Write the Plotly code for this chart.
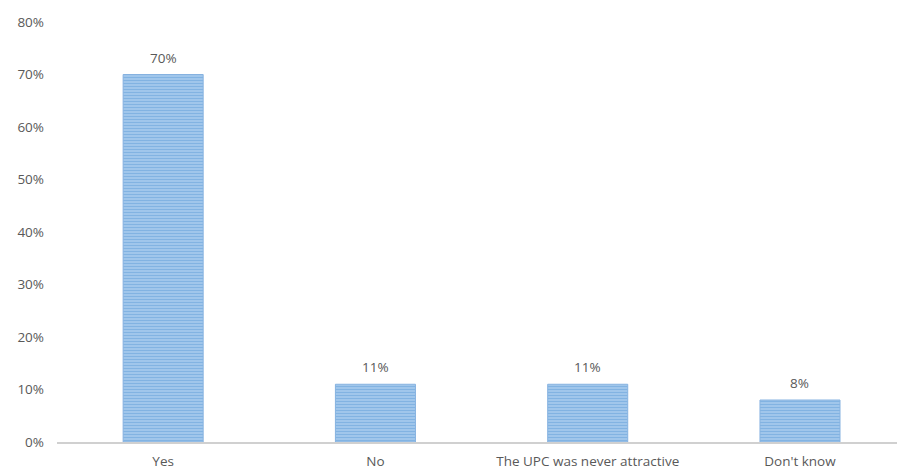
import plotly.graph_objects as go

categories = ["Yes", "No", "The UPC was never attractive", "Don't know"]
values = [0.70, 0.11, 0.11, 0.08]
labels = ["70%", "11%", "11%", "8%"]
tick_vals = [0, 0.1, 0.2, 0.3, 0.4, 0.5, 0.6, 0.7, 0.8]
tick_text = ["0%", "10%", "20%", "30%", "40%", "50%", "60%", "70%", "80%"]

font = dict(family="Open Sans, Segoe UI, sans-serif", size=13.5, color="#595959")

fig = go.Figure()
fig.add_trace(go.Bar(
    x=categories, y=values,
    marker=dict(
        color="#a9cbee",
        line=dict(color="#86b2e0", width=1),
        pattern=dict(shape="-", fgcolor="#5b9bd5", size=3, solidity=0.5, fillmode="overlay"),
    ),
    width=0.377,
    hoverinfo="skip",
))
for c, v, t in zip(categories, values, labels):
    fig.add_annotation(x=c, y=v, text=t, showarrow=False, yanchor="bottom", yshift=6, font=font)

fig.update_layout(
    width=897, height=471,
    margin=dict(l=57, r=0, t=22, b=29),
    plot_bgcolor="white", paper_bgcolor="white",
    font=font,
    showlegend=False,
    xaxis=dict(range=[-0.5, 3.457], showline=True, linecolor="#d0d0d0", linewidth=1.5,
               ticks="", showgrid=False, tickfont=font, ticklabelstandoff=6),
    yaxis=dict(range=[0, 0.8], tickvals=tick_vals, ticktext=tick_text, showgrid=False,
               zeroline=False, showline=False, ticks="", tickfont=font, ticklabelstandoff=12),
)
fig.write_html("out.html")
